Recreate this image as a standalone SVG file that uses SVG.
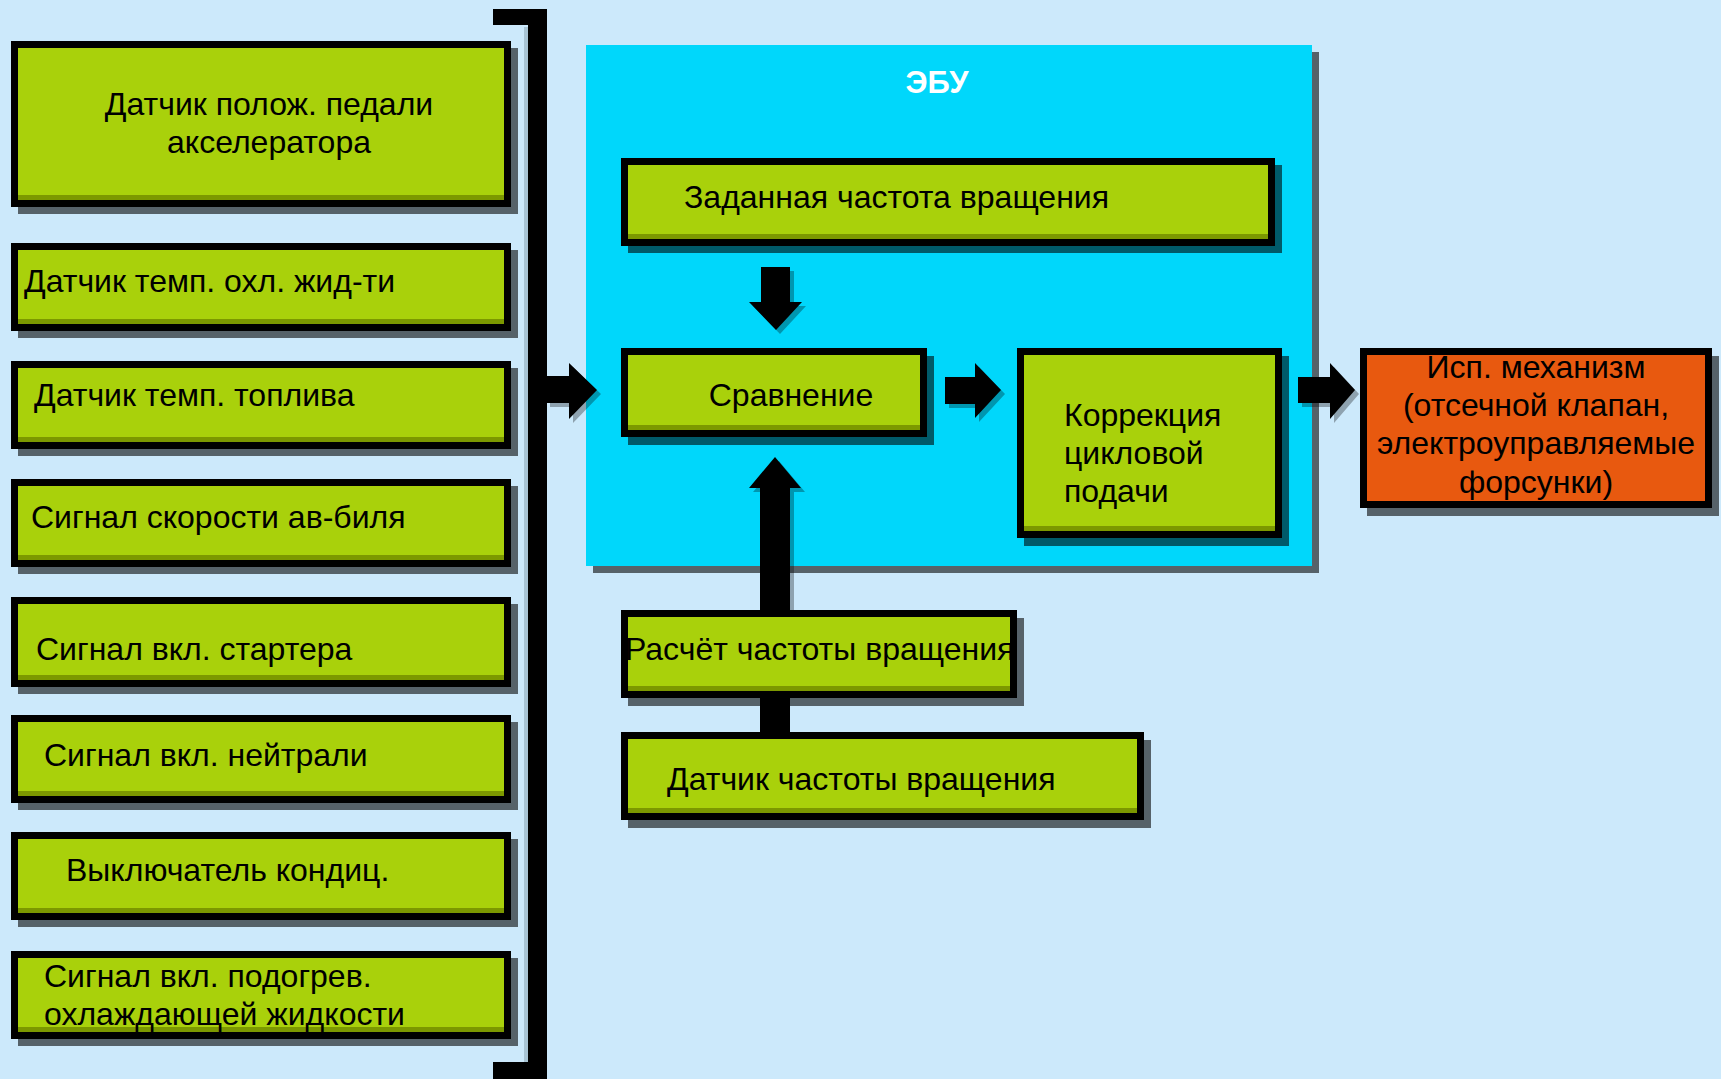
<svg xmlns="http://www.w3.org/2000/svg" width="1721" height="1079" viewBox="0 0 1721 1079">
<style>
.bg{fill:#cce9fb}
.sh{fill:#000;fill-opacity:0.58}
.box{fill:#a9d10b;stroke:#000;stroke-width:7}
.strip{fill:#7c9800}
.org{fill:#e8590f;stroke:#000;stroke-width:7}
.ecu{fill:#00d7fb}
.t{font-family:"Liberation Sans",Arial,sans-serif;font-size:32px;fill:#000}
.tm{text-anchor:middle}
.title{font-family:"Liberation Sans",Arial,sans-serif;font-size:31px;font-weight:bold;fill:#fff;text-anchor:middle}
.arr{fill:#000}
.ash{fill:#000;fill-opacity:0.3}
</style>
<rect class="bg" x="0" y="0" width="1721" height="1079"/>

<g id="bracket">
<rect x="524" y="27" width="4" height="1035" fill="#a8c4d4"/>
<rect class="arr" x="493" y="9" width="54" height="16"/>
<rect class="arr" x="528" y="9" width="19" height="1070"/>
<rect class="arr" x="493" y="1062" width="54" height="17"/>
</g>

<g id="ecu">
<rect class="sh" x="593" y="52" width="726" height="521"/>
<rect class="ecu" x="586" y="45" width="726" height="521"/>
<text class="title" x="937" y="93">ЭБУ</text>
</g>

<g id="connectors">
<path class="ash" d="M550 380 H573 V367 L601 394 L573 423 V407 H550 Z"/>
<path class="arr" d="M546 376 H569 V363 L597 390 L569 419 V403 H546 Z"/>
<path class="ash" d="M949 381 H979 V367 L1005 394 L979 422 V408 H949 Z"/>
<path class="arr" d="M945 377 H975 V363 L1001 390 L975 418 V404 H945 Z"/>
<path class="ash" d="M1302 381 H1334 V367 L1359 394 L1334 423 V407 H1302 Z"/>
<path class="arr" d="M1298 377 H1330 V363 L1355 390 L1330 419 V403 H1298 Z"/>
<path class="ash" d="M765 271 H794 V306 H806 L780 334 L753 306 H765 Z"/>
<path class="arr" d="M761 267 H790 V302 H802 L776 330 L749 302 H761 Z"/>
<path class="ash" d="M779 461 L805 492 H794 V616 H764 V492 H753 Z"/>
<path class="arr" d="M775 457 L801 488 H790 V612 H760 V488 H749 Z"/>
<rect class="arr" x="760" y="690" width="30" height="50"/>
</g>

<g id="n1">
<rect class="sh" x="18" y="48" width="500" height="166"/>
<rect class="box" x="14.5" y="44.5" width="493" height="159"/>
<rect class="strip" x="18" y="195" width="486" height="5"/>
<text class="t tm" x="269" y="115">Датчик полож. педали</text>
<text class="t tm" x="269" y="153">акселератора</text>
</g>
<g id="n2">
<rect class="sh" x="18" y="250" width="500" height="88"/>
<rect class="box" x="14.5" y="246.5" width="493" height="81"/>
<rect class="strip" x="18" y="319" width="486" height="5"/>
<text class="t" x="24" y="292">Датчик темп. охл. жид-ти</text>
</g>
<g id="n3">
<rect class="sh" x="18" y="368" width="500" height="88"/>
<rect class="box" x="14.5" y="364.5" width="493" height="81"/>
<rect class="strip" x="18" y="437" width="486" height="5"/>
<text class="t" x="34" y="406">Датчик темп. топлива</text>
</g>
<g id="n4">
<rect class="sh" x="18" y="486" width="500" height="88"/>
<rect class="box" x="14.5" y="482.5" width="493" height="81"/>
<rect class="strip" x="18" y="555" width="486" height="5"/>
<text class="t" x="31" y="528">Сигнал скорости ав-биля</text>
</g>
<g id="n5">
<rect class="sh" x="18" y="604" width="500" height="90"/>
<rect class="box" x="14.5" y="600.5" width="493" height="83"/>
<rect class="strip" x="18" y="675" width="486" height="5"/>
<text class="t" x="36" y="660">Сигнал вкл. стартера</text>
</g>
<g id="n6">
<rect class="sh" x="18" y="722" width="500" height="88"/>
<rect class="box" x="14.5" y="718.5" width="493" height="81"/>
<rect class="strip" x="18" y="791" width="486" height="5"/>
<text class="t" x="44" y="766">Сигнал вкл. нейтрали</text>
</g>
<g id="n7">
<rect class="sh" x="18" y="839" width="500" height="88"/>
<rect class="box" x="14.5" y="835.5" width="493" height="81"/>
<rect class="strip" x="18" y="908" width="486" height="5"/>
<text class="t" x="66" y="881">Выключатель кондиц.</text>
</g>
<g id="n8">
<rect class="sh" x="18" y="958" width="500" height="88"/>
<rect class="box" x="14.5" y="954.5" width="493" height="81"/>
<rect class="strip" x="18" y="1027" width="486" height="5"/>
<text class="t" x="44" y="987">Сигнал вкл. подогрев.</text>
<text class="t" x="44" y="1025">охлаждающей жидкости</text>
</g>

<g id="setpoint">
<rect class="sh" x="628" y="165" width="654" height="88"/>
<rect class="box" x="624.5" y="161.5" width="647" height="81"/>
<rect class="strip" x="628" y="234" width="640" height="5"/>
<text class="t" x="684" y="208">Заданная частота вращения</text>
</g>
<g id="compare">
<rect class="sh" x="628" y="356" width="306" height="89"/>
<rect class="box" x="624.5" y="351.5" width="299" height="82"/>
<rect class="strip" x="628" y="425" width="292" height="5"/>
<text class="t tm" x="791" y="406">Сравнение</text>
</g>
<g id="correction">
<rect class="sh" x="1024" y="356" width="265" height="190"/>
<rect class="box" x="1020.5" y="351.5" width="258" height="183"/>
<rect class="strip" x="1024" y="526" width="251" height="5"/>
<text class="t" x="1064" y="426">Коррекция</text>
<text class="t" x="1064" y="464">цикловой</text>
<text class="t" x="1064" y="502">подачи</text>
</g>
<g id="actuator">
<rect class="sh" x="1367" y="356" width="352" height="160"/>
<rect class="org" x="1363.5" y="351.5" width="345" height="153"/>
<text class="t tm" x="1536" y="378">Исп. механизм</text>
<text class="t tm" x="1536" y="416">(отсечной клапан,</text>
<text class="t tm" x="1536" y="454">электроуправляемые</text>
<text class="t tm" x="1536" y="493">форсунки)</text>
</g>
<g id="calc">
<rect class="sh" x="628" y="618" width="396" height="88"/>
<rect class="box" x="624.5" y="613.5" width="389" height="81"/>
<rect class="strip" x="628" y="686" width="382" height="5"/>
<text class="t" x="625" y="660">Расчёт частоты вращения</text>
</g>
<g id="speedsensor">
<rect class="sh" x="628" y="740" width="523" height="88"/>
<rect class="box" x="624.5" y="735.5" width="516" height="81"/>
<rect class="strip" x="628" y="808" width="509" height="5"/>
<text class="t" x="667" y="790">Датчик частоты вращения</text>
</g>
</svg>
